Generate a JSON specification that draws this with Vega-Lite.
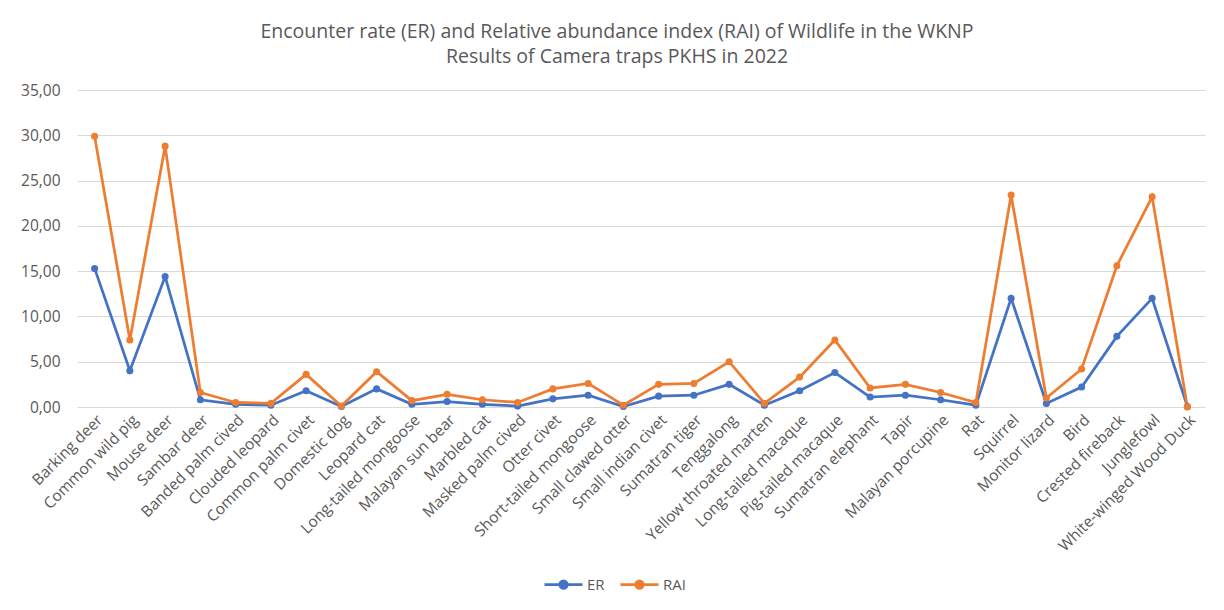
{
  "$schema": "https://vega.github.io/schema/vega-lite/v6.json",
  "width": 1128,
  "height": 317,
  "autosize": {"type": "none"},
  "padding": {"left": 77, "top": 90, "right": 19, "bottom": 203},
  "background": "white",
  "title": {
    "text": ["Encounter rate (ER) and Relative abundance index (RAI) of Wildlife in the WKNP", "Results of Camera traps PKHS in 2022"],
    "font": "Open Sans",
    "fontSize": 19.5,
    "fontWeight": "normal",
    "color": "#595959",
    "lineHeight": 25,
    "anchor": "middle",
    "dx": -24,
    "offset": 16
  },
  "data": {
    "values": [
      {"species": "Barking deer", "series": "ER", "value": 15.3},
      {"species": "Common wild pig", "series": "ER", "value": 4.0},
      {"species": "Mouse deer", "series": "ER", "value": 14.4},
      {"species": "Sambar deer", "series": "ER", "value": 0.8},
      {"species": "Banded palm cived", "series": "ER", "value": 0.3},
      {"species": "Clouded leopard", "series": "ER", "value": 0.2},
      {"species": "Common palm civet", "series": "ER", "value": 1.8},
      {"species": "Domestic dog", "series": "ER", "value": 0.05},
      {"species": "Leopard cat", "series": "ER", "value": 2.0},
      {"species": "Long-tailed mongoose", "series": "ER", "value": 0.3},
      {"species": "Malayan sun bear", "series": "ER", "value": 0.6},
      {"species": "Marbled cat", "series": "ER", "value": 0.3},
      {"species": "Masked palm cived", "series": "ER", "value": 0.1},
      {"species": "Otter civet", "series": "ER", "value": 0.9},
      {"species": "Short-tailed mongoose", "series": "ER", "value": 1.3},
      {"species": "Small clawed otter", "series": "ER", "value": 0.05},
      {"species": "Small indian civet", "series": "ER", "value": 1.2},
      {"species": "Sumatran tiger", "series": "ER", "value": 1.3},
      {"species": "Tenggalong", "series": "ER", "value": 2.5},
      {"species": "Yellow throated marten", "series": "ER", "value": 0.2},
      {"species": "Long-tailed macaque", "series": "ER", "value": 1.8},
      {"species": "Pig-tailed macaque", "series": "ER", "value": 3.8},
      {"species": "Sumatran elephant", "series": "ER", "value": 1.1},
      {"species": "Tapir", "series": "ER", "value": 1.3},
      {"species": "Malayan porcupine", "series": "ER", "value": 0.8},
      {"species": "Rat", "series": "ER", "value": 0.2},
      {"species": "Squirrel", "series": "ER", "value": 12.0},
      {"species": "Monitor lizard", "series": "ER", "value": 0.4},
      {"species": "Bird", "series": "ER", "value": 2.2},
      {"species": "Crested fireback", "series": "ER", "value": 7.8},
      {"species": "Junglefowl", "series": "ER", "value": 12.0},
      {"species": "White-winged Wood Duck", "series": "ER", "value": 0.05},
      {"species": "Barking deer", "series": "RAI", "value": 29.9},
      {"species": "Common wild pig", "series": "RAI", "value": 7.4},
      {"species": "Mouse deer", "series": "RAI", "value": 28.8},
      {"species": "Sambar deer", "series": "RAI", "value": 1.6},
      {"species": "Banded palm cived", "series": "RAI", "value": 0.5},
      {"species": "Clouded leopard", "series": "RAI", "value": 0.4},
      {"species": "Common palm civet", "series": "RAI", "value": 3.6},
      {"species": "Domestic dog", "series": "RAI", "value": 0.1},
      {"species": "Leopard cat", "series": "RAI", "value": 3.9},
      {"species": "Long-tailed mongoose", "series": "RAI", "value": 0.7},
      {"species": "Malayan sun bear", "series": "RAI", "value": 1.4},
      {"species": "Marbled cat", "series": "RAI", "value": 0.8},
      {"species": "Masked palm cived", "series": "RAI", "value": 0.5},
      {"species": "Otter civet", "series": "RAI", "value": 2.0},
      {"species": "Short-tailed mongoose", "series": "RAI", "value": 2.6},
      {"species": "Small clawed otter", "series": "RAI", "value": 0.2},
      {"species": "Small indian civet", "series": "RAI", "value": 2.5},
      {"species": "Sumatran tiger", "series": "RAI", "value": 2.6},
      {"species": "Tenggalong", "series": "RAI", "value": 5.0},
      {"species": "Yellow throated marten", "series": "RAI", "value": 0.4},
      {"species": "Long-tailed macaque", "series": "RAI", "value": 3.3},
      {"species": "Pig-tailed macaque", "series": "RAI", "value": 7.4},
      {"species": "Sumatran elephant", "series": "RAI", "value": 2.1},
      {"species": "Tapir", "series": "RAI", "value": 2.5},
      {"species": "Malayan porcupine", "series": "RAI", "value": 1.6},
      {"species": "Rat", "series": "RAI", "value": 0.5},
      {"species": "Squirrel", "series": "RAI", "value": 23.4},
      {"species": "Monitor lizard", "series": "RAI", "value": 1.0},
      {"species": "Bird", "series": "RAI", "value": 4.2},
      {"species": "Crested fireback", "series": "RAI", "value": 15.6},
      {"species": "Junglefowl", "series": "RAI", "value": 23.2},
      {"species": "White-winged Wood Duck", "series": "RAI", "value": 0.0}
    ]
  },
  "encoding": {
    "x": {
      "field": "species",
      "type": "nominal",
      "sort": null,
      "scale": {"type": "point", "padding": 0.5},
      "axis": {
        "title": null,
        "labelAngle": -45,
        "labelAlign": "right",
        "labelBaseline": "top",
        "labelFont": "Open Sans",
        "labelFontSize": 15.5,
        "labelColor": "#595959",
        "labelPadding": 5,
        "labelLimit": 400,
        "labelOverlap": false,
        "ticks": false,
        "domain": false,
        "grid": false
      }
    },
    "y": {
      "field": "value",
      "type": "quantitative",
      "scale": {"domain": [0, 35], "nice": false},
      "axis": {
        "title": null,
        "values": [0, 5, 10, 15, 20, 25, 30, 35],
        "labelExpr": "replace(format(datum.value, '.2f'), '.', ',')",
        "labelFont": "Open Sans",
        "labelFontSize": 15.5,
        "labelColor": "#595959",
        "labelPadding": 17,
        "ticks": false,
        "domain": false,
        "grid": true,
        "gridColor": "#d9d9d9",
        "gridWidth": 1
      }
    },
    "color": {
      "field": "series",
      "type": "nominal",
      "scale": {"domain": ["ER", "RAI"], "range": ["#4472C4", "#ED7D31"]},
      "legend": {
        "title": null,
        "orient": "none",
        "direction": "horizontal",
        "legendX": 466,
        "legendY": 474,
        "symbolType": "M-1,0H1M-0.2,0A0.2,0.2,0,1,1,0.2,0A0.2,0.2,0,1,1,-0.2,0Z",
        "symbolSize": 1444,
        "symbolStrokeWidth": 2.75,
        "labelFont": "Open Sans",
        "labelFontSize": 15,
        "labelColor": "#595959",
        "labelOffset": 3,
        "columnPadding": 10
      }
    }
  },
  "layer": [
    {"mark": {"type": "line", "strokeWidth": 2.75}},
    {"mark": {"type": "point", "filled": true, "size": 50, "opacity": 1}}
  ],
  "config": {"view": {"stroke": null}}
}
